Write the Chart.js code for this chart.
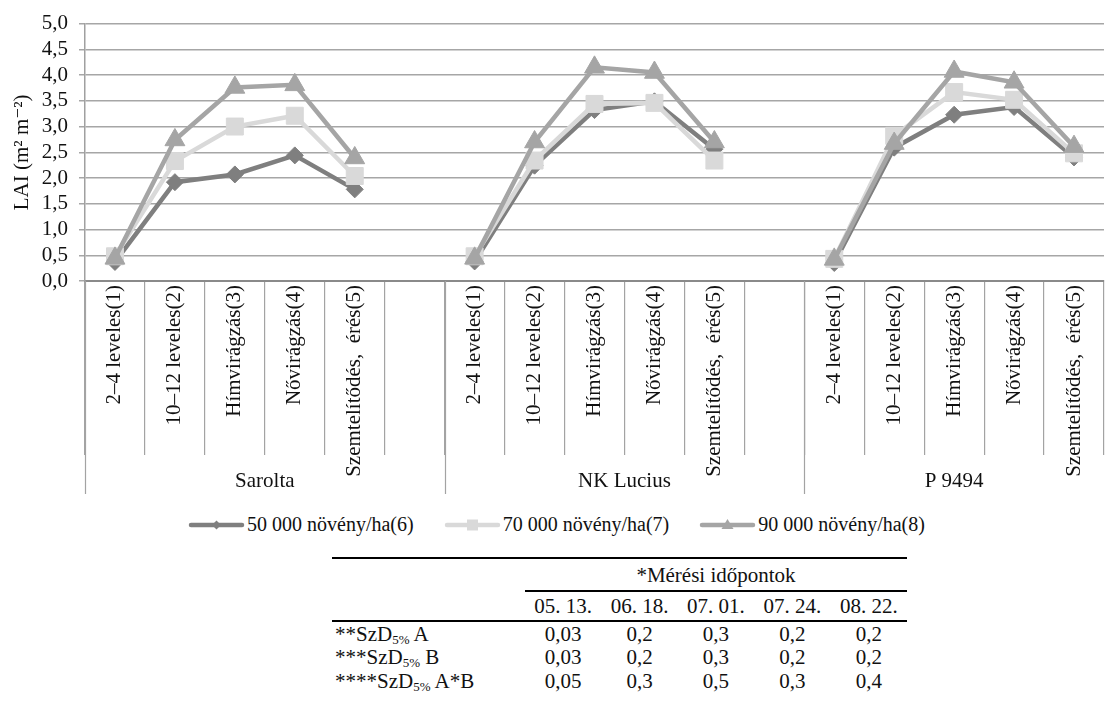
<!DOCTYPE html>
<html>
<head>
  <title>LAI</title>
  <script src="https://cdn.jsdelivr.net/npm/chart.js"></script>
  <style>
    html, body {
      margin: 0;
      padding: 0;
      overflow: hidden;
      background: #fff;
    }
    body {
      font-family: 'Liberation Serif', 'DejaVu Serif', serif;
      color: #111;
      width: 1108px;
      height: 707px;
      position: relative;
    }
    .chart-box {
      position: absolute;
      left: 0;
      top: 0;
      width: 1117px;
      height: 494px;
    }
    .legend {
      position: absolute;
      left: 188px;
      top: 513px;
      display: flex;
      align-items: center;
      font-size: 20px;
      white-space: nowrap;
    }
    .legend .item {
      display: flex;
      align-items: center;
      margin-right: 30px;
    }
    .legend canvas {
      margin-right: 2px;
    }
    table {
      position: absolute;
      left: 332px;
      top: 557px;
      width: 575px;
      border-collapse: collapse;
      border-top: 2px solid #000;
      font-size: 21px;
    }
    td {
      padding: 0;
      text-align: center;
      line-height: 22px;
    }
    td.lab {
      text-align: left;
      padding-left: 3px;
      width: 190px;
    }
    tr.head1 td { height: 31px; }
    tr.head1 td.span { border-bottom: 2px solid #000; }
    tr.head2 td { height: 28px; border-bottom: 2px solid #000; }
    tr.row td { height: 23.5px; }
    sub { font-size: 13px; vertical-align: -3px; line-height: 0; }
  </style>
</head>
<body>
  <div class="chart-box">
    <canvas id="laiChart" width="1117" height="494"></canvas>
  </div>
  <div class="legend" id="legend"></div>
  <table id="lsdTable"></table>

  <script>
    // stages and hybrids on the x axis
    const stages = ['2–4 leveles(1)', '10–12 leveles(2)', 'Hímvirágzás(3)', 'Nővirágzás(4)', 'Szemtelítődés,  érés(5)'];
    const hybrids = ['Sarolta', 'NK Lucius', 'P 9494'];
    const groupSizes = [6, 6, 5];
    const categories = [...stages, '', ...stages, '', ...stages];

    // LAI values, null = gap between hybrids
    const seriesNames = ['50 000 növény/ha(6)', '70 000 növény/ha(7)', '90 000 növény/ha(8)'];
    const lai50 = [0.37, 1.92, 2.07, 2.44, 1.78, null, 0.38, 2.24, 3.32, 3.49, 2.56, null, 0.35, 2.59, 3.23, 3.38, 2.40];
    const lai70 = [0.48, 2.33, 3.00, 3.21, 2.04, null, 0.48, 2.34, 3.44, 3.46, 2.34, null, 0.43, 2.82, 3.67, 3.52, 2.48];
    const lai90 = [0.44, 2.74, 3.76, 3.81, 2.39, null, 0.44, 2.70, 4.15, 4.05, 2.70, null, 0.42, 2.67, 4.07, 3.86, 2.61];

    const yTicks = [0, 0.5, 1, 1.5, 2, 2.5, 3, 3.5, 4, 4.5, 5];

    // LSD table
    const tableTitle = '*Mérési időpontok';
    const measureDates = ['05. 13.', '06. 18.', '07. 01.', '07. 24.', '08. 22.'];
    const lsdLabels = [['**', 'A'], ['***', 'B'], ['****', 'A*B']];
    const lsdA = ['0,03', '0,2', '0,3', '0,2', '0,2'];
    const lsdB = ['0,03', '0,2', '0,3', '0,2', '0,2'];
    const lsdAB = ['0,05', '0,3', '0,5', '0,3', '0,4'];

    const serif = "'Liberation Serif', 'DejaVu Serif', serif";

    // hybrid names and long separators under the stage labels
    const groupAxis = {
      id: 'groupAxis',
      afterDraw(chart) {
        const x = chart.scales.x;
        const ctx = chart.ctx;
        const step = x.width / categories.length;
        ctx.save();
        ctx.strokeStyle = '#a3a3a3';
        ctx.lineWidth = 1.2;
        ctx.fillStyle = '#111';
        ctx.font = '21px ' + serif;
        ctx.textAlign = 'center';
        ctx.textBaseline = 'middle';
        let start = 0;
        groupSizes.forEach((n, i) => {
          const x0 = Math.round(x.left + start * step) + 0.5;
          ctx.beginPath();
          ctx.moveTo(x0, x.top);
          ctx.lineTo(x0, chart.height);
          ctx.stroke();
          ctx.fillText(hybrids[i], x.left + (start + n / 2) * step, 481);
          start += n;
        });
        ctx.restore();
      }
    };

    const ctx = document.getElementById('laiChart').getContext('2d');
    const chart = new Chart(ctx, {
      type: 'line',
      data: {
        labels: categories,
        datasets: [
          {
            label: seriesNames[0],
            data: lai50,
            borderColor: '#7f7f7f',
            backgroundColor: '#7f7f7f',
            pointStyle: 'rectRot',
            pointRadius: 8.5,
            order: 3
          },
          {
            label: seriesNames[1],
            data: lai70,
            borderColor: '#d9d9d9',
            backgroundColor: '#d9d9d9',
            pointStyle: 'rect',
            pointRadius: 12,
            order: 2
          },
          {
            label: seriesNames[2],
            data: lai90,
            borderColor: '#a5a5a5',
            backgroundColor: '#a5a5a5',
            pointStyle: 'triangle',
            pointRadius: 11.5,
            order: 1
          }
        ]
      },
      options: {
        responsive: false,
        animation: false,
        events: [],
        spanGaps: false,
        elements: {
          line: { borderWidth: 4.5, tension: 0 },
          point: { borderWidth: 1, hoverRadius: 0 }
        },
        layout: { padding: { top: 19, right: 0, bottom: 0, left: 0 } },
        plugins: {
          legend: { display: false },
          tooltip: { enabled: false }
        },
        scales: {
          x: {
            offset: true,
            border: { color: '#8a8a8a', width: 2 },
            grid: {
              offset: true,
              drawOnChartArea: false,
              drawTicks: true,
              tickLength: 174,
              color: '#a3a3a3',
              lineWidth: 1.2
            },
            ticks: {
              autoSkip: false,
              minRotation: 90,
              maxRotation: 90,
              padding: -170,
              color: '#111',
              font: { family: serif, size: 21 }
            },
            afterFit(scale) { scale.height = 213; }
          },
          y: {
            min: 0,
            max: 5,
            border: { color: '#a0a0a0', width: 1.5 },
            grid: { color: '#a6a6a6', lineWidth: 1.5, tickLength: 6 },
            afterBuildTicks(scale) { scale.ticks = yTicks.map(v => ({ value: v })); },
            ticks: {
              autoSkip: false,
              padding: 11,
              color: '#111',
              font: { family: serif, size: 21 },
              callback: v => v.toFixed(1).replace('.', ',')
            },
            title: {
              display: true,
              text: 'LAI (m² m⁻²)',
              color: '#111',
              padding: { top: 10, bottom: 0 },
              font: { family: serif, size: 21 }
            },
            afterFit(scale) { scale.width = 85; }
          }
        }
      },
      plugins: [groupAxis]
    });

    // legend: line with marker, then the series name
    function drawMarker(c, style, color, x, y) {
      c.fillStyle = color;
      c.beginPath();
      if (style === 'rectRot') {
        c.moveTo(x - 4.5, y); c.lineTo(x, y - 4.5); c.lineTo(x + 4.5, y); c.lineTo(x, y + 4.5);
      } else if (style === 'rect') {
        c.rect(x - 5.5, y - 5.5, 11, 11);
      } else {
        c.moveTo(x, y - 6); c.lineTo(x + 6, y + 4); c.lineTo(x - 6, y + 4);
      }
      c.closePath();
      c.fill();
    }

    const legendEl = document.getElementById('legend');
    chart.data.datasets.forEach(ds => {
      const item = document.createElement('div');
      item.className = 'item';
      const icon = document.createElement('canvas');
      icon.width = 57;
      icon.height = 20;
      const ic = icon.getContext('2d');
      ic.strokeStyle = ds.borderColor;
      ic.lineWidth = 4.5;
      ic.lineCap = 'round';
      ic.beginPath();
      ic.moveTo(3, 10);
      ic.lineTo(54, 10);
      ic.stroke();
      drawMarker(ic, ds.pointStyle, ds.borderColor, 28.5, 10);
      const text = document.createElement('span');
      text.textContent = ds.label;
      item.appendChild(icon);
      item.appendChild(text);
      legendEl.appendChild(item);
    });

    // LSD table under the chart
    const table = document.getElementById('lsdTable');
    let html = '<tr class="head1"><td class="lab"></td><td class="span" colspan="5">' + tableTitle + '</td></tr>';
    html += '<tr class="head2"><td class="lab"></td>' + measureDates.map(d => '<td>' + d + '</td>').join('') + '</tr>';
    [lsdA, lsdB, lsdAB].forEach((row, i) => {
      const lab = lsdLabels[i][0] + 'SzD<sub>5%</sub> ' + lsdLabels[i][1];
      html += '<tr class="row"><td class="lab">' + lab + '</td>' + row.map(v => '<td>' + v + '</td>').join('') + '</tr>';
    });
    table.innerHTML = html;
  </script>
</body>
</html>
